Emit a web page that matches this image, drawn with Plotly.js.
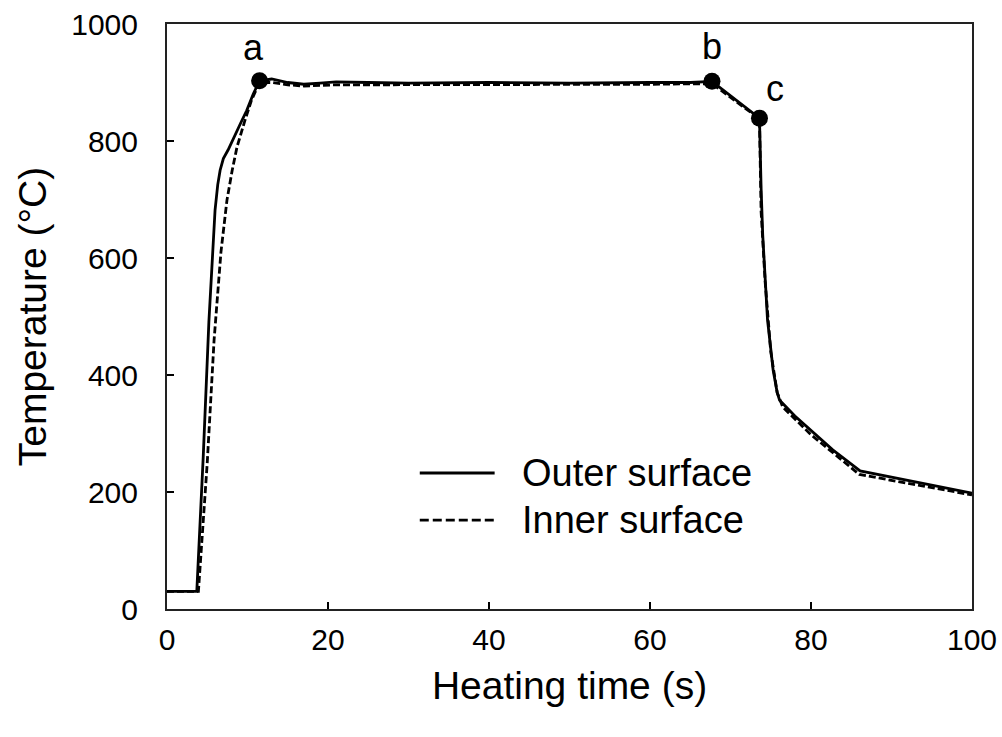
<!DOCTYPE html>
<html>
<head>
<meta charset="utf-8">
<script src="https://cdn.plot.ly/plotly-3.0.1.min.js"></script>
<style>html,body{margin:0;padding:0;background:#fff;}#chart{width:1002px;height:737px;}</style>
</head>
<body>
<div id="chart"></div>
<script>
// Outer surface temperature (time s, temperature °C)
const outerTime = [0, 3.7, 4.5, 5.2, 5.97, 6.3, 6.6, 7.0, 7.6, 8.5, 9.3, 9.9, 10.7, 11.5, 13, 15, 17, 19, 21, 25, 30, 40, 50, 60, 65, 67.7, 73.6, 73.8, 74.0, 74.6, 75.3, 75.8, 76.1, 78, 79.9, 82.7, 86.1, 90, 95, 100];
const outerTemp = [30, 30, 260, 490, 682, 725, 750, 770, 785, 810, 835, 852, 880, 903, 906, 900, 897, 899, 901, 900, 899, 900, 899, 900, 900, 902, 839, 720, 640, 494, 408, 370, 357, 330, 306, 272, 236, 225, 212, 198];
// Inner surface temperature
const innerTime = [0, 3.9, 5.0, 5.85, 6.7, 7.45, 8.1, 8.7, 9.7, 10.5, 11.5, 13, 15, 17, 21, 30, 40, 50, 60, 67.7, 73.6, 73.8, 74.3, 75.0, 75.8, 76.5, 80, 86, 90, 95, 100];
const innerTemp = [30, 30, 250, 460, 610, 699, 750, 790, 836, 870, 900, 900, 896, 894, 896, 896, 896, 896, 897, 898, 838, 680, 560, 440, 370, 345, 298, 230, 220, 208, 195];
// Marked points a, b, c
const pointLabels = ["a", "b", "c"];
const pointTime = [11.5, 67.7, 73.6];
const pointTemp = [903, 902, 839];
// Axis ticks
const xTicks = [0, 20, 40, 60, 80, 100];
const yTicks = [0, 200, 400, 600, 800, 1000];
// Legend entries
const seriesNames = ["Outer surface", "Inner surface"];

const font = "Liberation Sans, Arial, sans-serif";
const dashPattern = "7px,3px";
const legendDash = "9px,4px";

const traces = [
  {x: outerTime, y: outerTemp, mode: "lines", name: seriesNames[0],
   line: {color: "#000", width: 2.8}},
  {x: innerTime, y: innerTemp, mode: "lines", name: seriesNames[1],
   line: {color: "#000", width: 2.8, dash: dashPattern}},
  {x: pointTime, y: pointTemp, mode: "markers", name: "points",
   marker: {color: "#000", size: 17}}
];

const labelOffsets = [[-6, 33], [0, 35], [16, 30]];
const annotations = pointLabels.map((t, i) => ({
  x: pointTime[i], y: pointTemp[i], xref: "x", yref: "y", text: t,
  showarrow: false, xshift: labelOffsets[i][0], yshift: labelOffsets[i][1],
  font: {family: font, size: 36, color: "#000"}
}));

// Hand-drawn legend (long sample lines like the reference)
const legendRows = [0.2325, 0.152];
const legendShapes = seriesNames.map((n, i) => ({
  type: "line", xref: "paper", yref: "paper",
  x0: 0.314, x1: 0.407, y0: legendRows[i], y1: legendRows[i],
  line: {color: "#000", width: 2.8, dash: i === 0 ? "solid" : legendDash}
}));
seriesNames.forEach((n, i) => annotations.push({
  xref: "paper", yref: "paper", x: 0.4385, y: legendRows[i],
  xanchor: "left", yanchor: "middle", text: n, showarrow: false,
  font: {family: font, size: 38, color: "#000"}
}));

const layout = {
  width: 1002, height: 737,
  margin: {l: 167, r: 30, t: 24, b: 128},
  paper_bgcolor: "#fff", plot_bgcolor: "#fff",
  font: {family: font, color: "#000"},
  showlegend: false,
  xaxis: {range: [0, 100], tickvals: xTicks, ticks: "inside", ticklen: 7,
          tickcolor: "#000", tickwidth: 1.5, showgrid: false, zeroline: false,
          showline: true, linecolor: "#222", linewidth: 2, mirror: true,
          tickfont: {family: font, size: 30, color: "#000"}, ticklabelstandoff: 3,
          title: {text: "Heating time (s)", font: {family: font, size: 39, color: "#000"}, standoff: 17}},
  yaxis: {range: [0, 1000], tickvals: yTicks, ticks: "inside", ticklen: 7,
          tickcolor: "#000", tickwidth: 1.5, showgrid: false, zeroline: false,
          showline: true, linecolor: "#222", linewidth: 2, mirror: true,
          tickfont: {family: font, size: 30, color: "#000"}, ticklabelstandoff: 21,
          title: {text: "Temperature (°C)", font: {family: font, size: 39, color: "#000"}, standoff: 13}},
  shapes: legendShapes,
  annotations: annotations
};

Plotly.newPlot("chart", traces, layout, {displayModeBar: false, staticPlot: true});
</script>
</body>
</html>
